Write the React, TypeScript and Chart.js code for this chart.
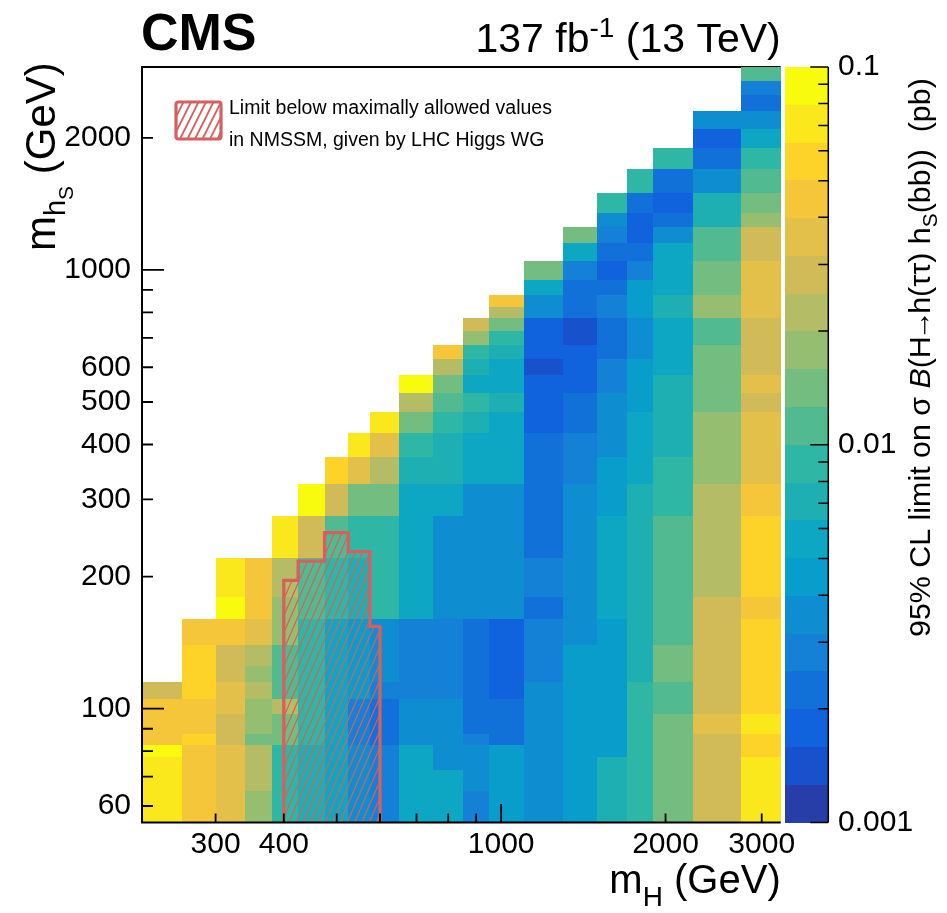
import React, { useEffect, useRef } from 'react';
import { Chart, registerables } from 'chart.js';

Chart.register(...registerables);

// ---------------- data ----------------
// m_H bin edges (GeV); one column of cells per heavy-Higgs mass point
const mHPoints = [240, 280, 320, 360, 400, 450, 500, 550, 600, 700, 800, 900, 1000, 1200, 1400, 1600, 1800, 2000, 2500, 3000];
const mHEdges = [220, 260, 300, 340, 380, 425, 475, 525, 575, 650, 750, 850, 950, 1100, 1300, 1500, 1700, 1900, 2250, 2750, 3250];
const mhsLowEdge = 55;
const mhsHighEdge = 2900;

// each column: [upper m_hs edge (GeV), 95% CL limit (pb)], from the bottom up
const lim240: [number, number][] = [[77.5, 0.0708], [82.5, 0.0891], [105, 0.0447], [115, 0.0282]];
const lim280: [number, number][] = [[82.5, 0.0447], [87.5, 0.0562], [105, 0.0447], [140, 0.0562], [160, 0.0447]];
const lim320: [number, number][] = [[82.5, 0.0355], [97.5, 0.0282], [115, 0.0355], [140, 0.0282], [160, 0.0447], [180, 0.0891], [220, 0.0708]];
const lim360: [number, number][] = [[65, 0.0178], [82.5, 0.0224], [87.5, 0.0141], [105, 0.0178], [115, 0.0224], [125, 0.0178], [140, 0.0224], [160, 0.0355], [220, 0.0447]];
const lim400: [number, number][] = [[82.5, 0.00891], [97.5, 0.0141], [105, 0.0224], [140, 0.0112], [180, 0.0178], [220, 0.0224], [275, 0.0708]];
const lim450: [number, number][] = [[82.5, 0.00708], [160, 0.00891], [220, 0.0112], [275, 0.0282], [325, 0.0891]];
const lim500: [number, number][] = [[160, 0.00562], [220, 0.00891], [275, 0.0112], [325, 0.0282], [375, 0.0562]];
const lim550: [number, number][] = [[82.5, 0.00355], [105, 0.00282], [160, 0.00447], [220, 0.00708], [275, 0.00891], [325, 0.0141], [375, 0.0355], [425, 0.0708]];
const lim600: [number, number][] = [[82.5, 0.00282], [105, 0.00224], [115, 0.00282], [160, 0.00355], [275, 0.00891], [325, 0.0141], [375, 0.0224], [425, 0.0355], [475, 0.0708]];
const lim700: [number, number][] = [[82.5, 0.00562], [105, 0.00355], [160, 0.00282], [325, 0.00562], [375, 0.00708], [425, 0.00891], [475, 0.0141], [525, 0.0224], [575, 0.0891]];
const lim800: [number, number][] = [[72.5, 0.00562], [105, 0.00355], [160, 0.00282], [275, 0.00355], [325, 0.00562], [425, 0.00708], [475, 0.00891], [525, 0.0112], [575, 0.0141], [625, 0.0224], [675, 0.0447]];
const lim900: [number, number][] = [[65, 0.00282], [82.5, 0.00355], [87.5, 0.00282], [160, 0.00224], [325, 0.00355], [425, 0.00562], [475, 0.00708], [525, 0.00891], [575, 0.00562], [625, 0.00708], [675, 0.00891], [725, 0.0178], [775, 0.0282]];
const lim1000: [number, number][] = [[82.5, 0.00447], [105, 0.00224], [160, 0.00178], [325, 0.00355], [475, 0.00562], [525, 0.00708], [625, 0.00562], [675, 0.00708], [725, 0.00891], [775, 0.0141], [825, 0.0224], [875, 0.0447]];
const lim1200: [number, number][] = [[115, 0.00355], [160, 0.00282], [180, 0.00224], [220, 0.00282], [425, 0.00224], [575, 0.00178], [625, 0.00141], [775, 0.00178], [875, 0.00355], [950, 0.00562], [1050, 0.0141]];
const lim1400: [number, number][] = [[140, 0.00447], [325, 0.00355], [425, 0.00282], [525, 0.00224], [675, 0.00178], [775, 0.00141], [950, 0.00224], [1050, 0.00282], [1150, 0.00562], [1250, 0.0141]];
const lim1600: [number, number][] = [[77.5, 0.00708], [160, 0.00447], [275, 0.00562], [375, 0.00447], [525, 0.00355], [625, 0.00282], [775, 0.00224], [875, 0.00282], [950, 0.00224], [1050, 0.00178], [1150, 0.00224], [1250, 0.00282], [1350, 0.00355], [1500, 0.00891]];
const lim1800: [number, number][] = [[115, 0.00891], [325, 0.00708], [475, 0.00562], [625, 0.00447], [775, 0.00355], [950, 0.00447], [1050, 0.00282], [1150, 0.00224], [1350, 0.00178], [1500, 0.00224], [1700, 0.00891]];
const lim2000: [number, number][] = [[97.5, 0.0141], [115, 0.0112], [140, 0.0141], [275, 0.0112], [375, 0.00891], [575, 0.00708], [775, 0.00562], [875, 0.00708], [1150, 0.00562], [1250, 0.00355], [1350, 0.00224], [1500, 0.00178], [1700, 0.00224], [1900, 0.00891]];
const lim2500: [number, number][] = [[87.5, 0.0282], [97.5, 0.0355], [180, 0.0282], [325, 0.0224], [475, 0.0178], [675, 0.0141], [775, 0.0112], [875, 0.0178], [1050, 0.0141], [1250, 0.0112], [1500, 0.00708], [1700, 0.00355], [1900, 0.00224], [2100, 0.00178], [2300, 0.00355]];
const lim3000: [number, number][] = [[77.5, 0.0708], [87.5, 0.0562], [97.5, 0.0708], [160, 0.0562], [180, 0.0447], [275, 0.0562], [325, 0.0447], [475, 0.0355], [525, 0.0282], [575, 0.0355], [775, 0.0282], [1050, 0.0355], [1250, 0.0282], [1350, 0.0178], [1500, 0.0141], [1700, 0.0112], [1900, 0.00891], [2100, 0.00562], [2300, 0.00355], [2500, 0.00224], [2700, 0.00282], [2900, 0.0112]];

const limitsByMH = [lim240, lim280, lim320, lim360, lim400, lim450, lim500, lim550, lim600, lim700, lim800, lim900, lim1000, lim1200, lim1400, lim1600, lim1800, lim2000, lim2500, lim3000];

// region where the limit is below the maximally allowed NMSSM values
const hatchMH = [400, 400, 425, 425, 475, 475, 525, 525, 575, 575, 600, 600];
const hatchMhs = [55, 196, 196, 217, 217, 252, 252, 228, 228, 154, 154, 55];

// axes
const xTicks = [300, 400, 500, 600, 700, 800, 900, 1000, 2000, 3000];
const xLabels = [300, 400, 1000, 2000, 3000];
const xMajor = [1000];
const yTicks = [60, 70, 80, 90, 100, 200, 300, 400, 500, 600, 700, 800, 900, 1000, 2000];
const yLabels = [60, 100, 200, 300, 400, 500, 600, 1000, 2000];
const yMajor = [100, 1000];
const zMinorTicks = [0.002, 0.003, 0.004, 0.005, 0.006, 0.007, 0.008, 0.009, 0.02, 0.03, 0.04, 0.05, 0.06, 0.07, 0.08, 0.09];
const zLabels = [0.001, 0.01, 0.1];
const zLabelText = ['0.001', '0.01', '0.1'];
const nContours = 20;

// ---------------- styling helpers ----------------
const FONT = "'Liberation Sans', Arial, Helvetica, sans-serif";
const HATCH_RED = '#d65f5f';

const birdStops = [0, 0.125, 0.25, 0.375, 0.5, 0.625, 0.75, 0.875, 1];
const birdR = [0.2082, 0.0592, 0.078, 0.0232, 0.1802, 0.5301, 0.8186, 0.9956, 0.9764];
const birdG = [0.1664, 0.3599, 0.5041, 0.6419, 0.7178, 0.7492, 0.7328, 0.7862, 0.9832];
const birdB = [0.5293, 0.8684, 0.8385, 0.7914, 0.6425, 0.4662, 0.3499, 0.1968, 0.0539];

function birdColor(t: number): string {
  let k = 0;
  while (k < 7 && t > birdStops[k + 1]) k++;
  const f = (t - birdStops[k]) / (birdStops[k + 1] - birdStops[k]);
  const c = (a: number[]) => Math.round(255 * (a[k] + (a[k + 1] - a[k]) * f));
  return `rgb(${c(birdR)},${c(birdG)},${c(birdB)})`;
}
function bandColor(i: number): string {
  const t = Math.floor(((i + 0.99) * 255) / nContours) / 254;
  return birdColor(Math.min(1, t));
}
function bandOf(v: number): number {
  const b = Math.floor((nContours / 2) * (Math.log10(v) + 3) + 1e-9);
  return Math.max(0, Math.min(nContours - 1, b));
}

type Seg = { t: string; size: number; dy?: number; dx?: number; italic?: boolean; bold?: boolean };
function segFont(s: Seg) {
  return `${s.italic ? 'italic ' : ''}${s.bold ? 'bold ' : ''}${s.size}px ${FONT}`;
}
function drawSegs(ctx: CanvasRenderingContext2D, segs: Seg[], x: number, y: number, align: 'left' | 'right') {
  let total = 0;
  for (const s of segs) {
    ctx.font = segFont(s);
    total += ctx.measureText(s.t).width + (s.dx || 0);
  }
  let cx = align === 'right' ? x - total : x;
  ctx.textAlign = 'left';
  ctx.textBaseline = 'alphabetic';
  for (const s of segs) {
    ctx.font = segFont(s);
    ctx.fillText(s.t, cx + (s.dx || 0) / 2, y + (s.dy || 0));
    cx += ctx.measureText(s.t).width + (s.dx || 0);
  }
}
function hatchLines(ctx: CanvasRenderingContext2D, left: number, top: number, right: number, bottom: number, spacing: number, slope: number) {
  const shift = (bottom - top) / slope;
  ctx.beginPath();
  for (let c = left - shift; c <= right + spacing; c += spacing) {
    ctx.moveTo(c, bottom);
    ctx.lineTo(c + shift, top);
  }
  ctx.stroke();
}

const heatmapPlugin = {
  id: 'heatmap',
  beforeDatasetsDraw(chart: any) {
    const { ctx, chartArea: ca, scales } = chart;
    const xs = scales.x, ys = scales.y, zs = scales.z;
    ctx.save();
    // top frame line (drawn below the cells)
    ctx.strokeStyle = '#000';
    ctx.lineWidth = 2;
    ctx.beginPath();
    ctx.moveTo(ca.left, ca.top);
    ctx.lineTo(ca.right, ca.top);
    ctx.stroke();

    // cells
    limitsByMH.forEach((col, ci) => {
      const x0 = Math.round(xs.getPixelForValue(mHEdges[ci]));
      const x1 = Math.round(xs.getPixelForValue(mHEdges[ci + 1]));
      let lo = mhsLowEdge;
      col.forEach(([hi, v]) => {
        const y0 = Math.round(ys.getPixelForValue(lo));
        const y1 = Math.round(ys.getPixelForValue(hi));
        ctx.fillStyle = bandColor(bandOf(v));
        ctx.fillRect(x0, y1, x1 - x0, y0 - y1);
        lo = hi;
      });
    });

    // colour bar
    const cbL = ca.right + 4.3;
    const cbW = 43.3;
    for (let i = 0; i < nContours; i++) {
      const vLo = Math.pow(10, -3 + (2 * i) / nContours);
      const vHi = Math.pow(10, -3 + (2 * (i + 1)) / nContours);
      const yb = Math.round(zs.getPixelForValue(vLo));
      const yt = Math.round(zs.getPixelForValue(vHi));
      ctx.fillStyle = bandColor(i);
      ctx.fillRect(Math.round(cbL), yt, Math.round(cbW), yb - yt);
    }
    ctx.restore();
  },
  afterDatasetsDraw(chart: any) {
    const { ctx, chartArea: ca, scales } = chart;
    const xs = scales.x, ys = scales.y, zs = scales.z;
    ctx.save();

    // hatched NMSSM region
    const tracePath = () => {
      ctx.beginPath();
      hatchMH.forEach((m, i) => {
        const px = xs.getPixelForValue(m);
        const py = ys.getPixelForValue(hatchMhs[i]);
        if (i === 0) ctx.moveTo(px, py);
        else ctx.lineTo(px, py);
      });
    };
    tracePath();
    ctx.closePath();
    ctx.save();
    ctx.clip();
    ctx.strokeStyle = HATCH_RED;
    ctx.lineWidth = 1.2;
    hatchLines(ctx, xs.getPixelForValue(400) - 5, ys.getPixelForValue(260), xs.getPixelForValue(600) + 5, ca.bottom, 7.3, 2.3);
    ctx.restore();
    tracePath();
    ctx.strokeStyle = HATCH_RED;
    ctx.lineWidth = 3.3;
    ctx.lineJoin = 'miter';
    ctx.stroke();

    // axes lines and inward ticks
    ctx.strokeStyle = '#000';
    ctx.lineWidth = 2;
    ctx.beginPath();
    ctx.moveTo(ca.left, ca.top - 1);
    ctx.lineTo(ca.left, ca.bottom);
    ctx.lineTo(ca.right, ca.bottom);
    ctx.stroke();
    ctx.lineWidth = 1.8;
    ctx.beginPath();
    xTicks.forEach((v) => {
      const px = xs.getPixelForValue(v);
      const len = xMajor.includes(v) ? 18.5 : 9;
      ctx.moveTo(px, ca.bottom);
      ctx.lineTo(px, ca.bottom - len);
    });
    yTicks.forEach((v) => {
      const py = ys.getPixelForValue(v);
      const len = yMajor.includes(v) ? 22 : 11;
      ctx.moveTo(ca.left, py);
      ctx.lineTo(ca.left + len, py);
    });
    ctx.stroke();

    // colour bar axis
    const cbR = ca.right + 4.3 + 43.3;
    ctx.lineWidth = 1.5;
    ctx.beginPath();
    ctx.moveTo(cbR, zs.top);
    ctx.lineTo(cbR, zs.bottom);
    zMinorTicks.forEach((v) => {
      const py = zs.getPixelForValue(v);
      ctx.moveTo(cbR, py);
      ctx.lineTo(cbR - 10, py);
    });
    zLabels.forEach((v) => {
      const py = zs.getPixelForValue(v);
      ctx.moveTo(cbR, py);
      ctx.lineTo(cbR - 18, py);
    });
    ctx.stroke();

    // legend
    const lx = ca.left + 34, ly = ca.top + 35, lw = 45, lh = 37;
    ctx.save();
    ctx.beginPath();
    ctx.rect(lx, ly, lw, lh);
    ctx.clip();
    ctx.strokeStyle = HATCH_RED;
    ctx.lineWidth = 1.8;
    hatchLines(ctx, lx, ly, lx + lw, ly + lh, 7.5, 2.0);
    ctx.restore();
    ctx.strokeStyle = HATCH_RED;
    ctx.lineWidth = 3.2;
    ctx.beginPath();
    (ctx as any).roundRect ? (ctx as any).roundRect(lx, ly, lw, lh, 2.5) : ctx.rect(lx, ly, lw, lh);
    ctx.stroke();
    ctx.fillStyle = '#000';
    drawSegs(ctx, [{ t: 'Limit below maximally allowed values', size: 19.5 }], ca.left + 87, ca.top + 47, 'left');
    drawSegs(ctx, [{ t: 'in NMSSM, given by LHC Higgs WG', size: 19.5 }], ca.left + 87, ca.top + 79, 'left');
    ctx.restore();
  },
  afterDraw(chart: any) {
    const { ctx, chartArea: ca } = chart;
    ctx.save();
    ctx.fillStyle = '#000';
    drawSegs(ctx, [{ t: 'CMS', size: 52, bold: true }], 141, 50, 'left');
    drawSegs(ctx, [{ t: '137 fb', size: 41 }, { t: '-1', size: 28, dy: -15 }, { t: ' (13 TeV)', size: 41 }], ca.right, 52, 'right');
    drawSegs(ctx, [{ t: 'm', size: 40 }, { t: 'H', size: 28, dy: 13 }, { t: ' (GeV)', size: 40 }], ca.right, 893, 'right');

    ctx.save();
    ctx.translate(55, 251);
    ctx.rotate(-Math.PI / 2);
    drawSegs(ctx, [{ t: 'm', size: 42 }, { t: 'h', size: 29, dy: 10 }, { t: 'S', size: 21, dy: 18 }, { t: ' (GeV)', size: 42 }], 0, 0, 'left');
    ctx.restore();

    ctx.save();
    ctx.translate(930, 637);
    ctx.rotate(-Math.PI / 2);
    drawSegs(
      ctx,
      [
        { t: '95% CL limit on σ ', size: 30.4 },
        { t: 'B', size: 30.4, italic: true },
        { t: '(H', size: 30.4 },
        { t: '→', size: 30.4, dx: -8 },
        { t: 'h(ττ) h', size: 30.4 },
        { t: 'S', size: 21, dy: 7 },
        { t: '(bb))  (pb)', size: 30.4 },
      ],
      0,
      0,
      'left'
    );
    ctx.restore();
    ctx.restore();
  },
};

// keep vertical axes from enlarging the chart's top/bottom padding
const trimPadding = (axis: any) => {
  axis.paddingTop = 0;
  axis.paddingBottom = 0;
};

export default function App() {
  const canvasRef = useRef<HTMLCanvasElement | null>(null);

  useEffect(() => {
    document.body.style.margin = '0';
    const canvas = canvasRef.current;
    if (!canvas) return;
    const tickFont = { family: FONT, size: 30 };
    const chart = new Chart(canvas, {
      type: 'scatter',
      data: { datasets: [{ data: [] as any[], showLine: false }] },
      options: {
        responsive: false,
        animation: false,
        events: [],
        layout: { padding: { top: 67, left: 0, right: 0, bottom: 0 } },
        plugins: { legend: { display: false }, tooltip: { enabled: false } },
        scales: {
          x: {
            type: 'logarithmic',
            position: 'bottom',
            min: mHEdges[0],
            max: mHEdges[mHEdges.length - 1],
            grid: { display: false, drawTicks: false },
            border: { display: false },
            ticks: {
              autoSkip: false,
              maxRotation: 0,
              minRotation: 0,
              padding: 4,
              color: '#000',
              font: tickFont,
              callback: (v: any) => (xLabels.includes(Number(v)) ? String(v) : ''),
            },
            afterBuildTicks: (axis: any) => {
              axis.ticks = xTicks.map((value) => ({ value }));
            },
            afterFit: (axis: any) => {
              axis.height = 90.4;
              axis.paddingLeft = 0;
              axis.paddingRight = 0;
            },
          },
          y: {
            type: 'logarithmic',
            position: 'left',
            min: mhsLowEdge,
            max: mhsHighEdge,
            grid: { display: false, drawTicks: false },
            border: { display: false },
            ticks: {
              autoSkip: false,
              padding: 11,
              color: '#000',
              font: tickFont,
              callback: (v: any) => (yLabels.includes(Number(v)) ? String(v) : ''),
            },
            afterBuildTicks: (axis: any) => {
              axis.ticks = yTicks.map((value) => ({ value }));
            },
            afterFit: (axis: any) => {
              axis.width = 142;
              trimPadding(axis);
            },
          },
          z: {
            type: 'logarithmic',
            axis: 'y',
            position: 'right',
            min: 0.001,
            max: 0.1,
            grid: { display: false, drawTicks: false },
            border: { display: false },
            ticks: {
              autoSkip: false,
              padding: 57.3,
              color: '#000',
              font: tickFont,
              callback: (v: any) => {
                const i = zLabels.indexOf(Number(v));
                return i >= 0 ? zLabelText[i] : '';
              },
            },
            afterBuildTicks: (axis: any) => {
              axis.ticks = zLabels.map((value) => ({ value }));
            },
            afterFit: (axis: any) => {
              axis.width = 166.3;
              trimPadding(axis);
            },
          },
        },
      } as any,
      plugins: [heatmapPlugin as any],
    });
    return () => chart.destroy();
  }, []);

  return (
    <div style={{ width: 947, height: 913, background: '#fff' }}>
      <canvas ref={canvasRef} width={947} height={913} style={{ display: 'block', width: 947, height: 913 }} />
      <span style={{ display: 'none' }}>{mHPoints.length}</span>
    </div>
  );
}
